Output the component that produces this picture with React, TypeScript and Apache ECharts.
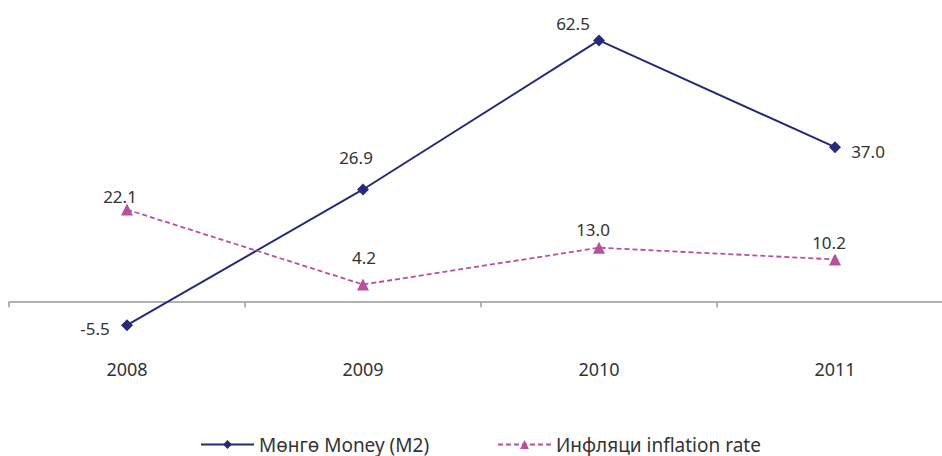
import React, { useEffect, useRef } from "react";
import * as echarts from "echarts";

const years = ["2008", "2009", "2010", "2011"];
const money = [-5.5, 26.9, 62.5, 37.0];
const inflation = [22.1, 4.2, 13.0, 10.2];
const moneyName = "Мөнгө Money (M2)";
const inflationName = "Инфляци inflation rate";
// label offsets from the marker centre
const moneyLabelOffset = [[-32, 3], [-7, -32], [-26, -17], [33, 4]];
const inflationLabelOffset = [[-7, -13], [1, -27], [-6, -18], [-6, -17]];

export default function App() {
  const ref = useRef<HTMLDivElement>(null);
  useEffect(() => {
    const chart = echarts.init(ref.current!, null, { renderer: "svg" });
    const font = "'Noto Sans', sans-serif";
    const labelBase = {
      show: true,
      position: "inside",
      formatter: (p: any) => Number(p.value).toFixed(1),
      fontSize: 17,
      color: "#333333",
      fontFamily: font,
    };
    chart.setOption({
      animation: false,
      textStyle: { fontFamily: font },
      grid: { left: 9, top: 9, width: 944, height: 335 },
      xAxis: {
        type: "category",
        data: years,
        boundaryGap: true,
        axisLine: { onZero: true, lineStyle: { color: "#999999", width: 1.5 } },
        axisTick: { show: true, length: 5, lineStyle: { color: "#999999", width: 1.5 } },
        axisLabel: { margin: 16, fontSize: 18, color: "#333333", fontFamily: font },
      },
      yAxis: {
        type: "value",
        min: -10,
        max: 70,
        show: false,
        splitLine: { show: false },
      },
      legend: [
        {
          left: 200,
          top: 435,
          padding: 0,
          itemWidth: 53,
          itemHeight: 11,
          textStyle: { fontSize: 19, color: "#333333", fontFamily: font },
          data: [moneyName],
        },
        {
          left: 497,
          top: 435,
          padding: 0,
          itemWidth: 53,
          itemHeight: 11,
          textStyle: { fontSize: 19, color: "#333333", fontFamily: font },
          data: [inflationName],
        },
      ],
      series: [
        {
          name: moneyName,
          type: "line",
          data: money.map((v, i) => ({
            value: v,
            label: { offset: moneyLabelOffset[i] },
          })),
          symbol: "diamond",
          symbolSize: 12,
          lineStyle: { color: "#262a78", width: 2 },
          itemStyle: { color: "#262a78" },
          label: labelBase,
        },
        {
          name: inflationName,
          type: "line",
          data: inflation.map((v, i) => ({
            value: v,
            label: { offset: inflationLabelOffset[i] },
          })),
          symbol: "triangle",
          symbolSize: 12,
          lineStyle: { color: "#b8509e", width: 1.8, type: [5, 3] },
          itemStyle: { color: "#b8509e" },
          label: labelBase,
        },
      ],
    });
    return () => chart.dispose();
  }, []);
  return (
    <div style={{ position: "absolute", left: 0, top: 0, width: 942, height: 456, overflow: "hidden" }}>
      <div ref={ref} style={{ width: 960, height: 456 }} />
    </div>
  );
}
